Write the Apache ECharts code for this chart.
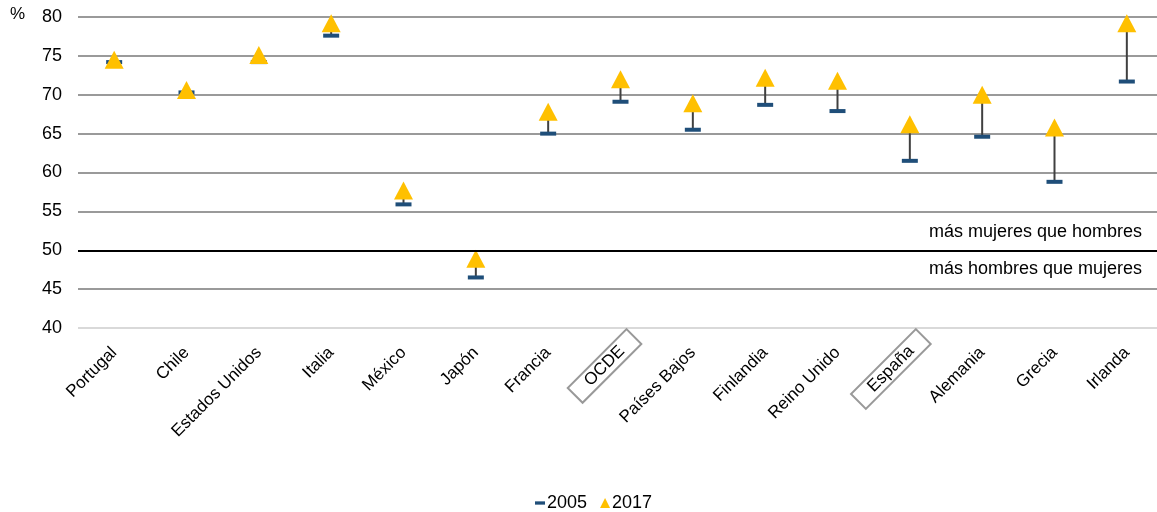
<!DOCTYPE html>
<html>
<head>
<meta charset="utf-8">
<script src="https://cdn.jsdelivr.net/npm/echarts@6/dist/echarts.min.js"></script>
<style>
  html, body { margin: 0; padding: 0; background: #fff; overflow: hidden; }
  #chart { width: 1163px; height: 512px; }
</style>
</head>
<body>
<div id="chart"></div>
<script>
// datos
const paises = ['Portugal', 'Chile', 'Estados Unidos', 'Italia', 'México', 'Japón', 'Francia', 'OCDE',
  'Países Bajos', 'Finlandia', 'Reino Unido', 'España', 'Alemania', 'Grecia', 'Irlanda']
const v2005 = [74.2, 70.3, 74.2, 77.6, 55.9, 46.5, 65.0, 69.1, 65.5, 68.7, 67.9, 61.5, 64.6, 58.8, 71.7]
const v2017 = [74.5, 70.6, 75.1, 79.2, 57.7, 48.9, 67.8, 72.0, 68.9, 72.2, 71.8, 66.2, 70.0, 65.8, 79.2]
const destacados = ['OCDE', 'España']
const yTicks = { min: 40, max: 80, interval: 5 }

const fuente = "'Liberation Sans', Arial, sans-serif"
const chart = echarts.init(document.getElementById('chart'))

// las etiquetas con recuadro sobresalen por el extremo, como en el original
const categorias = paises.map((p) => destacados.includes(p)
  ? { value: p, textStyle: { padding: [0, -19, 0, 0] } }
  : p)

chart.setOption({
  animation: false,
  textStyle: { fontFamily: fuente },
  title: {
    text: '%', left: 5, top: 1,
    textStyle: { fontSize: 17, fontWeight: 'normal', color: '#000', fontFamily: fuente }
  },
  grid: { left: 78, right: 0, top: 17, bottom: 184 },
  legend: {
    top: 489, left: 530,
    itemWidth: 10, itemHeight: 10, itemGap: 13,
    textStyle: { fontSize: 18, color: '#000', padding: [0, 0, 0, -3] },
    data: [
      { name: '2005', icon: 'path://M0,0h10v3.3H0z' },
      { name: '2017', icon: 'triangle' }
    ]
  },
  xAxis: {
    type: 'category',
    data: categorias,
    axisLine: { show: false },
    axisTick: { show: false },
    axisLabel: {
      rotate: 45,
      interval: 0,
      margin: 22,
      fontSize: 17,
      color: '#000',
      formatter: (v) => destacados.includes(v) ? '{box|' + v + '}' : v,
      rich: {
        box: {
          fontSize: 17,
          color: '#000',
          borderColor: '#999',
          borderWidth: 2,
          padding: [2, 17, 2, 17]
        }
      }
    }
  },
  yAxis: {
    type: 'value',
    min: yTicks.min, max: yTicks.max, interval: yTicks.interval,
    axisLine: { show: false },
    axisTick: { show: false },
    axisLabel: { fontSize: 18, color: '#000', margin: 16 },
    splitLine: {
      lineStyle: {
        width: 2,
        color: ['#d9d9d9', '#9a9a9a', '#9a9a9a', '#9a9a9a', '#9a9a9a', '#9a9a9a', '#9a9a9a', '#9a9a9a', '#9a9a9a']
      }
    }
  },
  series: [
    {
      type: 'custom',
      name: 'rango',
      z: 1,
      data: paises.map((p, i) => [i, v2005[i], v2017[i]]),
      renderItem: (params, api) => {
        const a = api.coord([api.value(0), api.value(1)])
        const b = api.coord([api.value(0), api.value(2)])
        return {
          type: 'line',
          shape: { x1: a[0], y1: a[1], x2: b[0], y2: b[1] },
          style: { stroke: '#404040', lineWidth: 2 }
        }
      },
      markLine: {
        silent: true,
        symbol: 'none',
        lineStyle: { color: '#000', width: 2, type: 'solid' },
        label: { fontSize: 18, color: '#000', fontFamily: fuente },
        data: [
          { yAxis: 50, label: { position: 'insideEndTop', distance: [21, 9], formatter: 'más mujeres que hombres' } },
          { yAxis: 50, label: { position: 'insideEndBottom', distance: [21, 10], formatter: 'más hombres que mujeres' } }
        ]
      }
    },
    {
      type: 'scatter',
      name: '2005',
      z: 2,
      symbol: 'rect',
      symbolSize: [16, 4],
      itemStyle: { color: '#1f4e79', opacity: 1 },
      data: v2005
    },
    {
      type: 'scatter',
      name: '2017',
      z: 3,
      symbol: 'triangle',
      symbolSize: [19, 18],
      itemStyle: { color: '#ffc000', opacity: 1 },
      data: v2017
    }
  ]
})

window.addEventListener('resize', () => {
  chart.resize()
})
</script>
</body>
</html>
